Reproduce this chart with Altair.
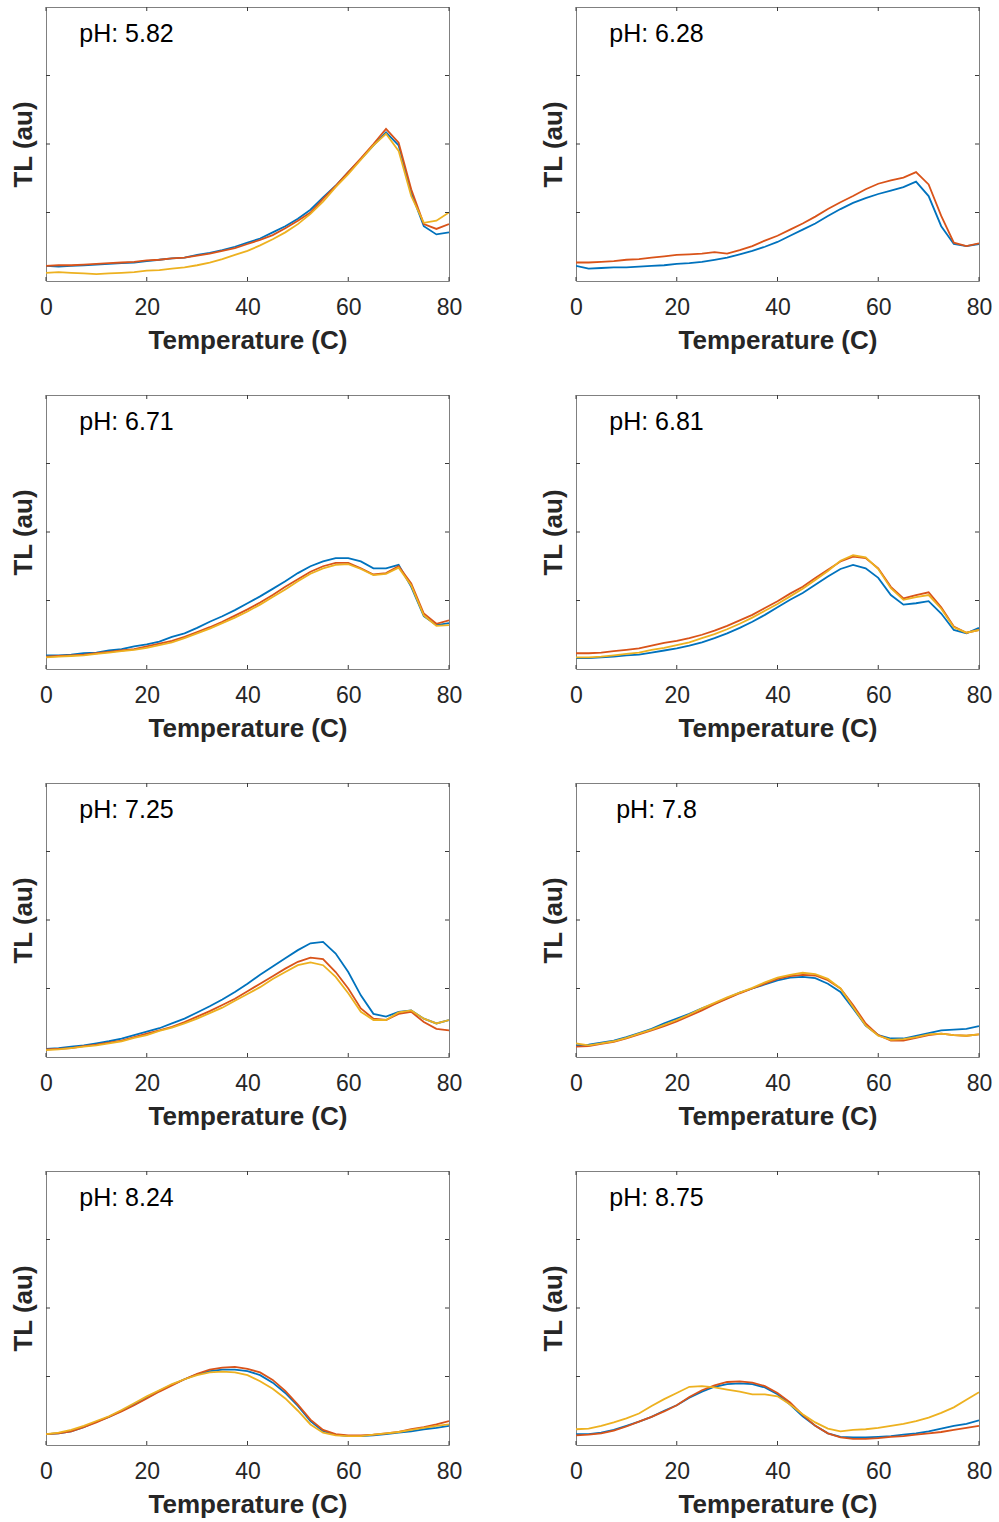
import altair as alt
import pandas as pd

# Temperature grid (C), every 2.5 degrees
TEMPS = [0, 2.5, 5, 7.5, 10, 12.5, 15, 17.5, 20, 22.5, 25, 27.5, 30, 32.5, 35, 37.5,
         40, 42.5, 45, 47.5, 50, 52.5, 55, 57.5, 60, 62.5, 65, 67.5, 70, 72.5, 75, 77.5, 80]

PH_LABELS = ["pH: 5.82", "pH: 6.28", "pH: 6.71", "pH: 6.81",
             "pH: 7.25", "pH: 7.8", "pH: 8.24", "pH: 8.75"]

X_TICKS = [0, 20, 40, 60, 80]
Y_TICKS = [1, 2, 3]

# --- pH 5.82 ---
ph582_run1 = [0.22, 0.21, 0.22, 0.23, 0.24, 0.25, 0.26, 0.27, 0.29, 0.31, 0.33, 0.34, 0.38, 0.41, 0.45, 0.50,
              0.56, 0.62, 0.71, 0.80, 0.91, 1.04, 1.22, 1.39, 1.59, 1.78, 1.98, 2.17, 1.98, 1.29, 0.80, 0.68, 0.71]
ph582_run2 = [0.22, 0.23, 0.23, 0.24, 0.25, 0.26, 0.27, 0.28, 0.30, 0.31, 0.33, 0.34, 0.37, 0.40, 0.44, 0.48,
              0.54, 0.60, 0.67, 0.77, 0.88, 1.00, 1.20, 1.39, 1.59, 1.79, 2.00, 2.22, 2.02, 1.34, 0.83, 0.76, 0.83]
ph582_run3 = [0.12, 0.13, 0.12, 0.11, 0.10, 0.11, 0.12, 0.13, 0.15, 0.16, 0.18, 0.20, 0.23, 0.27, 0.32, 0.38,
              0.44, 0.52, 0.61, 0.71, 0.83, 0.98, 1.16, 1.37, 1.56, 1.77, 1.98, 2.15, 1.90, 1.24, 0.85, 0.88, 1.00]

# --- pH 6.28 (two runs) ---
ph628_run1 = [0.22, 0.18, 0.19, 0.20, 0.20, 0.21, 0.22, 0.23, 0.25, 0.26, 0.28, 0.31, 0.34, 0.39, 0.44, 0.50,
              0.57, 0.66, 0.75, 0.84, 0.95, 1.05, 1.14, 1.21, 1.27, 1.32, 1.37, 1.45, 1.24, 0.80, 0.54, 0.51, 0.54]
ph628_run2 = [0.27, 0.27, 0.28, 0.29, 0.31, 0.32, 0.34, 0.36, 0.38, 0.39, 0.40, 0.42, 0.40, 0.45, 0.51, 0.59,
              0.66, 0.75, 0.84, 0.94, 1.05, 1.15, 1.24, 1.34, 1.42, 1.47, 1.51, 1.59, 1.41, 0.95, 0.56, 0.51, 0.55]

# --- pH 6.71 ---
ph671_run1 = [0.20, 0.20, 0.21, 0.23, 0.24, 0.27, 0.29, 0.33, 0.36, 0.40, 0.47, 0.52, 0.60, 0.69, 0.77, 0.86,
              0.96, 1.06, 1.17, 1.28, 1.40, 1.50, 1.57, 1.62, 1.62, 1.57, 1.47, 1.47, 1.52, 1.20, 0.77, 0.64, 0.67]
ph671_run2 = [0.18, 0.19, 0.20, 0.21, 0.23, 0.25, 0.27, 0.29, 0.33, 0.37, 0.41, 0.47, 0.54, 0.61, 0.69, 0.78,
              0.87, 0.97, 1.08, 1.20, 1.31, 1.42, 1.50, 1.55, 1.55, 1.47, 1.38, 1.40, 1.50, 1.25, 0.81, 0.66, 0.71]
ph671_run3 = [0.17, 0.18, 0.19, 0.20, 0.22, 0.24, 0.26, 0.28, 0.31, 0.35, 0.39, 0.45, 0.52, 0.59, 0.67, 0.75,
              0.84, 0.94, 1.05, 1.16, 1.28, 1.39, 1.47, 1.52, 1.53, 1.46, 1.37, 1.39, 1.48, 1.22, 0.78, 0.63, 0.64]

# --- pH 6.81 ---
ph681_run1 = [0.16, 0.16, 0.17, 0.18, 0.20, 0.21, 0.24, 0.27, 0.30, 0.34, 0.39, 0.45, 0.52, 0.60, 0.69, 0.79,
              0.90, 1.01, 1.11, 1.23, 1.35, 1.46, 1.52, 1.47, 1.33, 1.08, 0.94, 0.96, 0.99, 0.81, 0.57, 0.52, 0.60]
ph681_run2 = [0.23, 0.23, 0.24, 0.26, 0.28, 0.30, 0.34, 0.38, 0.41, 0.45, 0.50, 0.56, 0.63, 0.71, 0.79, 0.89,
              0.99, 1.10, 1.20, 1.33, 1.45, 1.57, 1.64, 1.62, 1.47, 1.20, 1.03, 1.08, 1.12, 0.90, 0.62, 0.53, 0.57]
ph681_run3 = [0.17, 0.17, 0.18, 0.20, 0.22, 0.24, 0.28, 0.31, 0.35, 0.39, 0.45, 0.51, 0.58, 0.66, 0.75, 0.85,
              0.95, 1.06, 1.17, 1.30, 1.43, 1.58, 1.66, 1.63, 1.46, 1.18, 1.01, 1.05, 1.08, 0.88, 0.61, 0.53, 0.57]

# --- pH 7.25 ---
ph725_run1 = [0.12, 0.13, 0.15, 0.17, 0.20, 0.23, 0.27, 0.32, 0.37, 0.42, 0.49, 0.56, 0.65, 0.74, 0.84, 0.95,
              1.07, 1.20, 1.32, 1.44, 1.56, 1.66, 1.68, 1.51, 1.24, 0.90, 0.63, 0.59, 0.66, 0.68, 0.56, 0.49, 0.54]
ph725_run2 = [0.11, 0.12, 0.13, 0.16, 0.18, 0.21, 0.24, 0.29, 0.34, 0.39, 0.44, 0.51, 0.59, 0.67, 0.76, 0.85,
              0.96, 1.07, 1.18, 1.29, 1.39, 1.45, 1.43, 1.24, 1.00, 0.71, 0.56, 0.54, 0.63, 0.66, 0.51, 0.41, 0.39]
ph725_run3 = [0.10, 0.11, 0.13, 0.15, 0.17, 0.20, 0.23, 0.28, 0.32, 0.38, 0.43, 0.49, 0.56, 0.64, 0.72, 0.82,
              0.92, 1.02, 1.14, 1.24, 1.34, 1.38, 1.34, 1.17, 0.93, 0.66, 0.54, 0.54, 0.65, 0.68, 0.56, 0.49, 0.54]

# --- pH 7.8 ---
ph78_run1 = [0.17, 0.18, 0.21, 0.24, 0.29, 0.35, 0.41, 0.49, 0.56, 0.63, 0.71, 0.78, 0.86, 0.94, 1.00, 1.06,
             1.12, 1.16, 1.17, 1.15, 1.07, 0.95, 0.71, 0.46, 0.32, 0.27, 0.27, 0.31, 0.35, 0.39, 0.40, 0.41, 0.45]
ph78_run2 = [0.15, 0.16, 0.19, 0.22, 0.27, 0.33, 0.39, 0.45, 0.52, 0.60, 0.68, 0.77, 0.85, 0.93, 1.00, 1.07,
             1.14, 1.18, 1.20, 1.19, 1.12, 1.00, 0.76, 0.49, 0.32, 0.24, 0.24, 0.28, 0.32, 0.34, 0.32, 0.31, 0.33]
ph78_run3 = [0.20, 0.17, 0.20, 0.23, 0.28, 0.34, 0.40, 0.47, 0.54, 0.62, 0.71, 0.79, 0.87, 0.94, 1.01, 1.09,
             1.16, 1.20, 1.23, 1.21, 1.14, 1.00, 0.73, 0.46, 0.31, 0.25, 0.26, 0.29, 0.33, 0.34, 0.32, 0.31, 0.33]

# --- pH 8.24 ---
ph824_run1 = [0.16, 0.17, 0.20, 0.26, 0.34, 0.41, 0.50, 0.59, 0.69, 0.79, 0.88, 0.96, 1.03, 1.08, 1.10, 1.10,
              1.08, 1.02, 0.91, 0.76, 0.57, 0.35, 0.20, 0.15, 0.13, 0.13, 0.14, 0.16, 0.18, 0.20, 0.23, 0.25, 0.28]
ph824_run2 = [0.16, 0.17, 0.20, 0.26, 0.33, 0.41, 0.49, 0.58, 0.68, 0.78, 0.87, 0.96, 1.04, 1.10, 1.13, 1.14,
              1.11, 1.06, 0.95, 0.79, 0.59, 0.37, 0.22, 0.16, 0.14, 0.14, 0.15, 0.17, 0.19, 0.23, 0.26, 0.30, 0.35]
ph824_run3 = [0.16, 0.18, 0.22, 0.28, 0.35, 0.42, 0.51, 0.61, 0.71, 0.80, 0.89, 0.96, 1.02, 1.06, 1.07, 1.06,
              1.02, 0.93, 0.82, 0.68, 0.50, 0.30, 0.18, 0.14, 0.13, 0.13, 0.15, 0.17, 0.19, 0.22, 0.25, 0.28, 0.30]

# --- pH 8.75 ---
ph875_run1 = [0.16, 0.16, 0.18, 0.22, 0.28, 0.34, 0.41, 0.50, 0.58, 0.69, 0.78, 0.85, 0.89, 0.90, 0.89, 0.84,
              0.74, 0.59, 0.42, 0.28, 0.17, 0.12, 0.11, 0.11, 0.12, 0.13, 0.15, 0.17, 0.20, 0.24, 0.28, 0.31, 0.36]
ph875_run2 = [0.14, 0.15, 0.17, 0.21, 0.27, 0.34, 0.41, 0.49, 0.58, 0.70, 0.80, 0.87, 0.92, 0.93, 0.91, 0.86,
              0.76, 0.62, 0.44, 0.28, 0.17, 0.11, 0.09, 0.09, 0.10, 0.12, 0.13, 0.15, 0.17, 0.19, 0.22, 0.25, 0.28]
ph875_run3 = [0.23, 0.24, 0.28, 0.33, 0.39, 0.46, 0.57, 0.67, 0.76, 0.85, 0.86, 0.84, 0.81, 0.78, 0.74, 0.74,
              0.71, 0.59, 0.45, 0.33, 0.24, 0.20, 0.22, 0.23, 0.25, 0.28, 0.31, 0.35, 0.40, 0.47, 0.55, 0.66, 0.77]

PANEL_RUNS = [
    [ph582_run1, ph582_run2, ph582_run3],
    [ph628_run1, ph628_run2],
    [ph671_run1, ph671_run2, ph671_run3],
    [ph681_run1, ph681_run2, ph681_run3],
    [ph725_run1, ph725_run2, ph725_run3],
    [ph78_run1, ph78_run2, ph78_run3],
    [ph824_run1, ph824_run2, ph824_run3],
    [ph875_run1, ph875_run2, ph875_run3],
]

RUN_NAMES = ["run1", "run2", "run3"]
RUN_COLORS = ["#0072BD", "#D95319", "#EDB120"]

W, H = 403, 274
FONT = "Liberation Sans"
TICK_COLOR = "#3a3a3a"

xs = alt.Scale(domain=[0, 80], nice=False, zero=False)
ys = alt.Scale(domain=[0, 4], nice=False, zero=False)

X_AXIS = alt.Axis(title="Temperature (C)", values=X_TICKS, ticks=False, domain=False,
                  grid=False, labelPadding=15, titlePadding=8, format="d", labelFlush=False)
Y_AXIS = alt.Axis(title="TL (au)", labels=False, ticks=False, domain=False,
                  grid=False, titlePadding=10)


def make_panel(label, runs):
    rows = []
    for name, vals in zip(RUN_NAMES, runs):
        for t, v in zip(TEMPS, vals):
            rows.append({"T": t, "TL": v, "run": name})
    df = pd.DataFrame(rows)

    lines = alt.Chart(df).mark_line(strokeWidth=1.8, clip=True).encode(
        x=alt.X("T:Q", scale=xs, axis=X_AXIS),
        y=alt.Y("TL:Q", scale=ys, axis=Y_AXIS),
        color=alt.Color("run:N", scale=alt.Scale(domain=RUN_NAMES, range=RUN_COLORS), legend=None),
    )

    txt = alt.Chart(pd.DataFrame({"label": [label]})).mark_text(
        align="center", baseline="middle", fontSize=25, font=FONT, color="#000000"
    ).encode(x=alt.value(80.5), y=alt.value(26.5), text="label:N")

    xt = pd.DataFrame({"T": X_TICKS})
    yt = pd.DataFrame({"TL": Y_TICKS})
    xb = alt.Chart(xt).mark_rule(color=TICK_COLOR, strokeWidth=1).encode(
        x=alt.X("T:Q", scale=xs, axis=X_AXIS), y=alt.value(H), y2=alt.value(H - 4))
    xtp = alt.Chart(xt).mark_rule(color=TICK_COLOR, strokeWidth=1).encode(
        x=alt.X("T:Q", scale=xs, axis=X_AXIS), y=alt.value(0), y2=alt.value(4))
    yl = alt.Chart(yt).mark_rule(color=TICK_COLOR, strokeWidth=1).encode(
        y=alt.Y("TL:Q", scale=ys, axis=Y_AXIS), x=alt.value(0), x2=alt.value(4))
    yr = alt.Chart(yt).mark_rule(color=TICK_COLOR, strokeWidth=1).encode(
        y=alt.Y("TL:Q", scale=ys, axis=Y_AXIS), x=alt.value(W), x2=alt.value(W - 4))

    return alt.layer(lines, txt, xb, xtp, yl, yr).properties(width=W, height=H)


panels = [make_panel(lbl, runs) for lbl, runs in zip(PH_LABELS, PANEL_RUNS)]

chart = alt.concat(*panels, columns=2, spacing={"row": 114, "column": 127}, bounds="flush").properties(
    padding={"left": 9, "top": 6, "right": 5, "bottom": 5}
).configure_view(
    stroke="#808080", strokeWidth=1
).configure_axis(
    labelFont=FONT, labelFontSize=23, labelColor="#262626",
    titleFont=FONT, titleFontSize=26, titleFontWeight="bold", titleColor="#262626"
)

chart.save("out.html", embed_options={"renderer": "svg", "actions": False})
